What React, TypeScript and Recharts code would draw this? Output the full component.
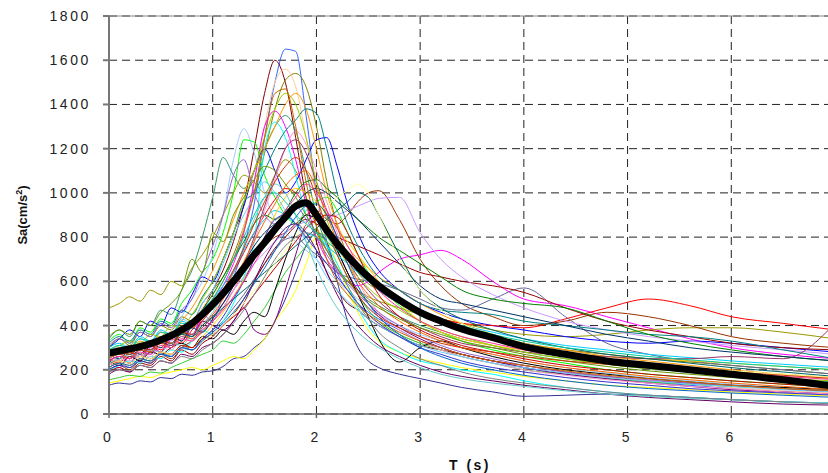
import React from 'react';
import { LineChart, Line, XAxis, YAxis, CartesianGrid, ReferenceLine, Label } from 'recharts';

// periods (s)
const periods = [0, 0.1, 0.2, 0.3, 0.4, 0.5, 0.6, 0.7, 0.8, 0.9, 1.0, 1.1, 1.2, 1.3, 1.4, 1.5, 1.6, 1.7, 1.8, 1.9, 2.0,
  2.1, 2.2, 2.3, 2.4, 2.5, 2.6, 2.8, 3.0, 3.2, 3.4, 3.7, 4.0, 4.4, 4.8, 5.2, 5.6, 6.0, 6.5, 7.0];

const xTicks = [0, 1, 2, 3, 4, 5, 6, 7];
const yTicks = [0, 200, 400, 600, 800, 1000, 1200, 1400, 1600, 1800];

// mean spectrum
const meanSa = [275, 285, 295, 305, 318, 335, 355, 380, 410, 450, 495, 545, 600, 660, 720, 775, 835, 890, 940, 955, 900,
  830, 770, 715, 665, 620, 580, 515, 460, 420, 385, 345, 305, 270, 240, 220, 200, 180, 155, 125];

// individual record spectra
const spectra: number[][] = [
  [240, 260, 230, 290, 270, 330, 300, 380, 350, 450, 420, 540, 620, 760, 950, 1250, 1500, 1650, 1640, 1350, 1000,
    780, 640, 560, 500, 460, 430, 380, 330, 300, 270, 240, 210, 180, 160, 145, 130, 115, 100, 90],
  [220, 250, 280, 240, 310, 280, 360, 330, 420, 470, 560, 650, 780, 950, 1200, 1450, 1600, 1500, 1250, 980, 780,
    640, 560, 500, 470, 430, 400, 350, 310, 290, 270, 240, 220, 190, 170, 150, 140, 130, 115, 100],
  [300, 340, 310, 370, 350, 400, 380, 440, 420, 500, 560, 620, 720, 850, 1000, 1180, 1380, 1510, 1540, 1480, 1300,
    1050, 850, 720, 640, 590, 560, 500, 460, 420, 390, 350, 320, 290, 270, 250, 235, 220, 200, 180],
  [260, 240, 290, 270, 330, 310, 380, 420, 400, 480, 540, 600, 700, 850, 1050, 1300, 1500, 1560, 1480, 1250, 980,
    760, 620, 540, 480, 440, 410, 360, 320, 290, 260, 230, 210, 185, 165, 150, 135, 120, 105, 95],
  [230, 210, 260, 240, 300, 280, 340, 390, 360, 440, 500, 580, 680, 820, 1050, 1300, 1370, 1300, 1150, 950, 800,
    700, 640, 600, 580, 600, 640, 700, 720, 740, 700, 600, 520, 490, 440, 390, 340, 300, 270, 250],
  [330, 360, 320, 390, 370, 430, 410, 500, 560, 640, 700, 820, 1000, 1240, 1230, 1080, 980, 900, 860, 920, 960,
    980, 920, 820, 720, 640, 580, 490, 420, 370, 330, 290, 260, 230, 200, 180, 165, 150, 135, 120],
  [260, 290, 270, 320, 300, 370, 350, 440, 520, 600, 720, 900, 1150, 1290, 1180, 1000, 880, 820, 780, 740, 700,
    650, 600, 560, 520, 480, 450, 400, 360, 330, 300, 270, 240, 210, 185, 165, 150, 135, 120, 110],
  [340, 380, 350, 420, 400, 470, 450, 560, 650, 800, 980, 1160, 1080, 1020, 1100, 1200, 1300, 1350, 1280, 1100, 900,
    760, 660, 600, 560, 520, 490, 440, 400, 370, 340, 310, 280, 250, 225, 205, 190, 175, 160, 145],
  [480, 500, 530, 510, 560, 540, 600, 580, 660, 720, 800, 900, 1000, 1080, 1050, 1000, 1080, 1150, 1100, 980, 850,
    740, 660, 600, 560, 530, 510, 480, 450, 430, 410, 380, 360, 350, 360, 380, 390, 390, 370, 340],
  [300, 340, 380, 350, 420, 400, 480, 460, 540, 620, 600, 700, 820, 940, 1100, 1200, 1100, 1000, 1050, 1150, 1240,
    1250, 1120, 950, 820, 720, 650, 560, 500, 460, 430, 400, 380, 350, 330, 320, 330, 320, 300, 280],
  [250, 230, 280, 260, 310, 290, 340, 320, 380, 430, 480, 550, 640, 730, 820, 900, 970, 1020, 1000, 940, 880,
    820, 760, 700, 650, 600, 560, 500, 460, 430, 410, 400, 390, 430, 480, 520, 490, 440, 410, 380],
  [200, 220, 200, 240, 230, 270, 250, 300, 330, 370, 420, 480, 560, 640, 700, 760, 800, 820, 860, 900, 920,
    880, 860, 900, 960, 1000, 1010, 880, 700, 580, 500, 440, 400, 420, 460, 440, 400, 350, 320, 300],
  [210, 230, 210, 250, 240, 280, 260, 310, 290, 340, 380, 420, 480, 540, 610, 680, 740, 790, 800, 760, 720,
    680, 640, 620, 610, 600, 590, 560, 520, 480, 470, 520, 570, 440, 320, 270, 240, 220, 200, 180],
  [190, 210, 190, 230, 220, 260, 240, 290, 270, 320, 350, 400, 450, 520, 600, 680, 750, 800, 850, 880, 860,
    830, 800, 780, 760, 740, 720, 680, 640, 620, 600, 580, 550, 480, 420, 380, 350, 320, 300, 290],
  [280, 300, 280, 320, 310, 350, 330, 380, 360, 410, 450, 500, 560, 620, 680, 730, 780, 820, 850, 870, 880,
    890, 900, 920, 940, 960, 975, 980, 820, 700, 620, 540, 480, 420, 380, 350, 330, 310, 290, 270],
  [130, 140, 135, 150, 145, 165, 160, 180, 175, 190, 195, 215, 250, 260, 300, 340, 420, 520, 640, 760, 820,
    780, 600, 420, 300, 240, 210, 180, 160, 140, 120, 100, 80, 85, 90, 85, 75, 65, 55, 50],
  [140, 150, 160, 170, 165, 180, 190, 200, 210, 200, 220, 240, 260, 250, 290, 340, 420, 480, 560, 680, 800,
    780, 680, 560, 460, 380, 330, 280, 250, 230, 210, 190, 170, 150, 130, 120, 110, 100, 90, 80],
  [155, 165, 175, 170, 190, 185, 210, 230, 250, 270, 290, 330, 320, 360, 420, 480, 560, 640, 700, 760, 820,
    800, 720, 620, 540, 470, 420, 360, 320, 290, 260, 230, 200, 180, 160, 145, 135, 125, 115, 105],
  [200, 220, 240, 230, 260, 250, 290, 280, 330, 380, 360, 420, 500, 620, 780, 1200, 1320, 1250, 1080, 900, 820,
    760, 680, 580, 480, 400, 340, 280, 240, 220, 200, 180, 150, 120, 100, 85, 75, 65, 55, 50],
  [240, 260, 250, 290, 280, 320, 310, 370, 350, 420, 400, 380, 420, 480, 380, 360, 420, 560, 720, 860, 900,
    840, 740, 640, 560, 500, 450, 390, 340, 300, 270, 240, 210, 180, 160, 140, 125, 110, 100, 90],
  [270, 300, 280, 330, 310, 370, 350, 420, 480, 560, 650, 760, 880, 1000, 1100, 1200, 1300, 1400, 1450, 1380, 1200,
    1000, 860, 760, 700, 660, 620, 560, 500, 450, 410, 360, 320, 290, 260, 240, 220, 200, 180, 165],
  [320, 350, 330, 380, 360, 420, 400, 470, 450, 530, 600, 700, 820, 960, 1000, 1100, 1200, 1280, 1330, 1380, 1360,
    1200, 1000, 860, 760, 680, 620, 560, 500, 470, 460, 450, 420, 400, 380, 360, 350, 330, 290, 250],
  [260, 280, 300, 290, 330, 320, 370, 360, 410, 470, 540, 620, 700, 780, 860, 900, 880, 920, 1000, 1050, 1060,
    1020, 980, 930, 880, 840, 800, 740, 680, 620, 560, 520, 500, 480, 420, 360, 320, 290, 260, 240],
  [230, 250, 240, 270, 260, 300, 290, 340, 330, 380, 420, 480, 560, 660, 780, 920, 1060, 1200, 1280, 1220, 1100,
    960, 820, 700, 600, 520, 460, 380, 330, 290, 260, 230, 200, 175, 155, 140, 125, 115, 100, 90],
  [240, 220, 260, 240, 280, 270, 300, 320, 300, 350, 340, 380, 360, 420, 460, 440, 560, 700, 820, 900, 880,
    820, 740, 640, 540, 440, 340, 235, 300, 330, 300, 260, 230, 200, 180, 160, 145, 130, 120, 110],
  [300, 320, 300, 350, 330, 380, 360, 420, 400, 470, 520, 580, 650, 740, 820, 880, 920, 900, 860, 820, 800,
    760, 720, 680, 640, 600, 560, 500, 450, 420, 400, 370, 340, 310, 290, 270, 255, 240, 225, 210],
  [210, 230, 220, 250, 240, 280, 270, 310, 300, 350, 400, 460, 530, 610, 700, 800, 900, 980, 1020, 1000, 960,
    900, 840, 780, 720, 660, 600, 500, 420, 370, 340, 310, 290, 270, 260, 250, 240, 230, 215, 200],
  [250, 270, 260, 290, 280, 320, 310, 350, 340, 390, 440, 500, 580, 680, 800, 940, 1080, 1200, 1240, 1180, 1050,
    920, 800, 700, 620, 560, 510, 440, 390, 350, 320, 300, 280, 270, 260, 250, 250, 260, 250, 410],
  [270, 250, 290, 270, 320, 300, 350, 330, 390, 370, 430, 500, 580, 680, 760, 820, 860, 900, 950, 1000, 1020,
    1000, 960, 920, 880, 830, 780, 680, 580, 520, 500, 470, 440, 400, 360, 330, 300, 280, 260, 240],
  [290, 310, 330, 320, 360, 350, 400, 390, 450, 520, 600, 700, 820, 960, 1100, 1250, 1380, 1450, 1400, 1250, 1050,
    880, 760, 680, 620, 570, 530, 470, 420, 380, 350, 310, 280, 250, 225, 205, 190, 175, 160, 150],
  [180, 200, 190, 220, 210, 240, 230, 270, 260, 300, 320, 360, 420, 500, 600, 700, 780, 840, 860, 820, 740,
    640, 540, 460, 400, 350, 310, 260, 220, 190, 170, 150, 130, 110, 90, 75, 65, 55, 45, 40],
  [230, 250, 270, 260, 290, 280, 320, 310, 360, 400, 460, 540, 640, 760, 880, 980, 1040, 1000, 900, 780, 660,
    560, 480, 420, 370, 330, 300, 250, 210, 180, 160, 140, 125, 105, 90, 80, 70, 65, 55, 50],
  [250, 270, 250, 290, 280, 320, 300, 360, 340, 400, 450, 520, 600, 690, 780, 870, 950, 1030, 1080, 1100, 1020,
    900, 780, 680, 600, 540, 490, 420, 370, 330, 300, 270, 240, 210, 190, 170, 155, 140, 125, 110],
  [280, 310, 290, 340, 320, 380, 360, 430, 410, 500, 560, 680, 800, 900, 980, 1050, 1000, 920, 860, 780, 700,
    620, 560, 510, 470, 430, 400, 350, 310, 280, 260, 230, 210, 185, 165, 150, 135, 125, 110, 100],
  [220, 240, 230, 260, 250, 280, 270, 310, 300, 340, 360, 400, 440, 480, 540, 600, 660, 720, 780, 840, 880,
    900, 890, 820, 720, 620, 540, 440, 380, 340, 310, 280, 250, 220, 200, 180, 165, 150, 135, 120],
  [260, 280, 270, 300, 290, 330, 320, 360, 350, 400, 440, 480, 520, 560, 600, 640, 680, 720, 760, 800, 840,
    880, 920, 960, 1000, 980, 900, 720, 560, 480, 430, 380, 340, 300, 270, 250, 230, 210, 190, 170],
  [310, 340, 320, 370, 350, 410, 390, 470, 520, 640, 760, 900, 1080, 1150, 1000, 900, 860, 900, 940, 880, 800,
    720, 650, 590, 540, 500, 460, 400, 350, 310, 280, 250, 220, 190, 170, 155, 140, 130, 115, 105],
  [220, 240, 230, 260, 250, 280, 270, 300, 290, 330, 360, 400, 450, 500, 560, 620, 680, 740, 800, 860, 900,
    940, 980, 1010, 1040, 1000, 900, 700, 560, 470, 410, 360, 320, 280, 250, 230, 210, 195, 180, 165],
  [200, 220, 210, 240, 230, 270, 260, 300, 290, 340, 380, 440, 520, 600, 700, 800, 880, 900, 860, 800, 740,
    680, 620, 560, 500, 450, 410, 350, 300, 270, 240, 210, 190, 165, 145, 130, 115, 105, 95, 85],
  [270, 290, 280, 320, 310, 350, 340, 400, 390, 450, 520, 600, 700, 830, 1000, 1250, 1450, 1470, 1300, 1050, 850,
    700, 600, 540, 490, 450, 420, 370, 330, 300, 270, 240, 220, 195, 175, 160, 145, 130, 115, 105],
  [350, 380, 360, 420, 400, 460, 500, 560, 700, 640, 820, 780, 900, 980, 1060, 1120, 1100, 1040, 980, 900, 820,
    740, 660, 600, 550, 510, 480, 430, 390, 360, 330, 300, 270, 240, 215, 195, 180, 165, 150, 135],
  [210, 230, 220, 250, 240, 270, 260, 300, 290, 330, 370, 410, 460, 520, 590, 660, 740, 820, 890, 940, 950,
    900, 800, 680, 580, 500, 440, 360, 300, 260, 230, 200, 175, 150, 130, 115, 105, 95, 85, 75],
  [240, 260, 250, 280, 270, 310, 300, 340, 330, 380, 420, 470, 530, 600, 680, 760, 840, 920, 980, 1040, 1000,
    920, 840, 760, 680, 620, 560, 480, 420, 380, 350, 320, 290, 260, 240, 220, 200, 185, 170, 155],
  [290, 310, 300, 340, 330, 370, 360, 410, 400, 460, 520, 600, 700, 800, 900, 980, 1000, 960, 900, 860, 820,
    780, 740, 700, 660, 620, 580, 520, 470, 430, 400, 360, 330, 300, 280, 260, 245, 230, 215, 200],
  [190, 200, 195, 220, 210, 240, 230, 260, 250, 290, 320, 360, 410, 470, 540, 620, 700, 760, 800, 820, 800,
    740, 660, 580, 500, 430, 370, 300, 250, 220, 190, 160, 140, 120, 100, 85, 75, 65, 55, 45],
  [260, 280, 270, 300, 290, 330, 320, 370, 360, 420, 480, 560, 650, 750, 860, 960, 1050, 1120, 1160, 1100, 980,
    840, 720, 620, 540, 480, 440, 390, 350, 320, 300, 280, 260, 240, 225, 210, 200, 190, 175, 160],
];

const spectraColors = [
  '#3366FF', '#800000', '#808000', '#FFCC99', '#FF00FF', '#00FF00', '#99CCFF', '#339966',
  '#999900', '#0000FF', '#FF0000', '#993300', '#666699', '#990000', '#CC99FF', '#333399',
  '#FFFF00', '#33CC33', '#00FFFF', '#800080', '#FF9900', '#008080', '#008000', '#FF99CC',
  '#000000', '#00CCFF', '#FFCC00', '#993366', '#003366', '#99CC00', '#660066', '#66CCCC',
  '#FF6600', '#66CCFF', '#CC0000', '#006666', '#9966CC', '#FFFF99', '#3333CC', '#CC6600',
  '#669900', '#0066CC', '#FF3399', '#00CC99', '#808080', '#CC3300',
];

const chartData = periods.map((t, i) => {
  const row: Record<string, number> = { t, mean: meanSa[i] };
  spectra.forEach((s, k) => { row['r' + k] = s[i]; });
  return row;
});

const FONT = '"Liberation Sans", Arial, sans-serif';

const YTick = (props: any) => {
  const { x, y, payload } = props;
  return (
    <text x={x} y={y} dy={5} textAnchor="end" fontFamily={FONT} fontSize={14} fill="#222" letterSpacing={2.6}>
      {payload.value}
    </text>
  );
};

const XTick = (props: any) => {
  const { x, y, payload } = props;
  return (
    <text x={x - 2} y={y} dy={10} textAnchor="middle" fontFamily={FONT} fontSize={14} fill="#222">
      {payload.value}
    </text>
  );
};

const YTitle = () => (
  <text x={27} y={215} transform="rotate(-90, 27, 215)" textAnchor="middle" fontFamily={FONT}
    fontSize={13} fontWeight="bold" fill="#111">
    Sa(cm/s<tspan dy={-5} fontSize={9}>2</tspan><tspan dy={5}>)</tspan>
  </text>
);

const XTitle = () => (
  <text x={470} y={470} textAnchor="middle" fontFamily={FONT} fontSize={14} fontWeight="bold" fill="#111"
    letterSpacing={2.5}>
    T (s)
  </text>
);

export default function App() {
  return (
    <div style={{ position: 'absolute', left: 0, top: 0, width: 828, height: 473, overflow: 'hidden', background: '#fff' }}>
      <LineChart width={852} height={473} data={chartData} margin={{ top: 16, right: 17, left: 0, bottom: 0 }}>
        <CartesianGrid stroke="#222" strokeDasharray="8 5" />
        <XAxis dataKey="t" type="number" domain={[0, 7]} ticks={xTicks} height={59} tickSize={4} tickMargin={14}
          stroke="#666" strokeWidth={1.5} tick={<XTick />} allowDataOverflow>
          <Label content={<XTitle />} />
        </XAxis>
        <YAxis domain={[0, 1800]} ticks={yTicks} width={109} tickSize={6} tickMargin={12}
          stroke="#777" strokeWidth={2} tick={<YTick />} allowDataOverflow>
          <Label content={<YTitle />} />
        </YAxis>
        <ReferenceLine y={1800} stroke="#888" strokeWidth={1} />
        {spectra.map((_, k) => (
          <Line key={k} dataKey={'r' + k} type="monotone" stroke={spectraColors[k]} strokeWidth={1}
            dot={false} isAnimationActive={false} />
        ))}
        <Line dataKey="mean" type="monotone" stroke="#000" strokeWidth={7} strokeLinecap="round"
          dot={false} isAnimationActive={false} />
      </LineChart>
    </div>
  );
}
